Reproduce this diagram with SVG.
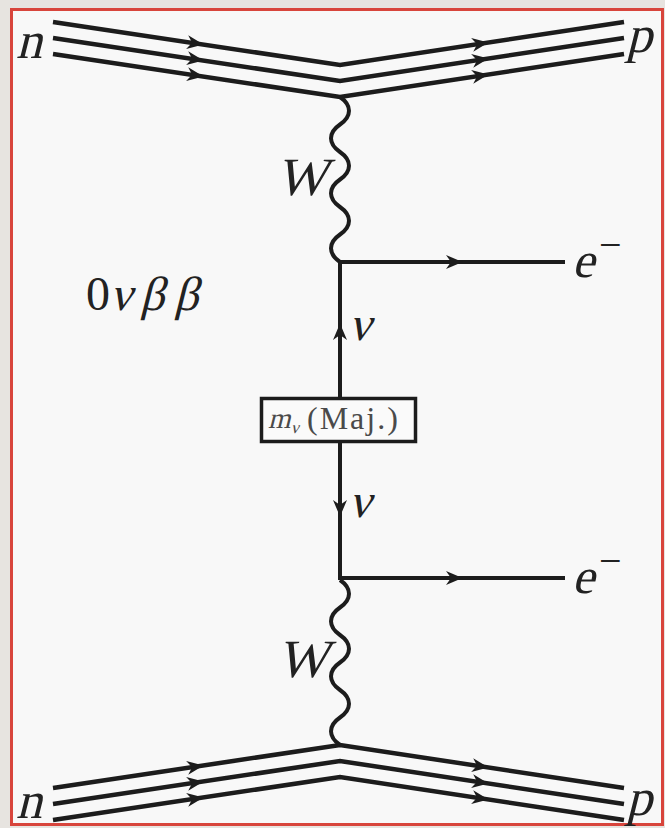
<svg xmlns="http://www.w3.org/2000/svg" width="665" height="828" viewBox="0 0 665 828">
  <style>
    .ln { fill: none; stroke: #1c1c1c; stroke-width: 4.5; stroke-linejoin: miter; }
    .thin { fill: none; stroke: #1c1c1c; stroke-width: 4; }
    .arr { fill: none; stroke: none; marker-end: url(#ah); }
    .lab { font-family: "Liberation Serif", "Times New Roman", serif; font-style: normal; font-weight: normal; fill: #222222; }
    .gray { fill: #4a4a4a; }
  </style>
  <defs>
    <marker id="ah" markerUnits="userSpaceOnUse" viewBox="-18 -9 20 18" markerWidth="20" markerHeight="18" refX="0" refY="0" orient="auto" overflow="visible">
      <path d="M1.5,0 L-15,-7 L-10,0 L-15,7 Z" fill="#1c1c1c"/>
    </marker>
  </defs>

  <rect x="0" y="0" width="665" height="828" fill="#e7e4e0"/>
  <rect id="frame" x="11.5" y="9.5" width="651" height="815" fill="#f8f8f8" stroke="#d8453c" stroke-width="3"/>

  <g id="connectors">
    <path class="ln" d="M53,22 L340,65 L624,22"/>
    <path class="ln" d="M53,38 L340,81 L624,38"/>
    <path class="ln" d="M53,54 L340,97 L624,54"/>
    <path class="arr" d="M190,42.5 L202,44.3"/>
    <path class="arr" d="M190,58.5 L202,60.3"/>
    <path class="arr" d="M190,74.5 L202,76.3"/>
    <path class="arr" d="M475,44.5 L487,42.7"/>
    <path class="arr" d="M475,60.5 L487,58.7"/>
    <path class="arr" d="M475,76.5 L487,74.7"/>

    <path class="ln" d="M53,788 L340,745 L624,788"/>
    <path class="ln" d="M53,804 L340,761 L624,804"/>
    <path class="ln" d="M53,820 L340,777 L624,820"/>
    <path class="arr" d="M190,767.5 L202,765.7"/>
    <path class="arr" d="M190,783.5 L202,781.7"/>
    <path class="arr" d="M190,799.5 L202,797.7"/>
    <path class="arr" d="M475,765.5 L487,767.3"/>
    <path class="arr" d="M475,781.5 L487,783.3"/>
    <path class="arr" d="M475,797.5 L487,799.3"/>

    <path class="thin" d="M340,97 c12,8.25 12,19.25 0,27.5 s-12,19.25 0,27.5 s12,19.25 0,27.5 s-12,19.25 0,27.5 s12,19.25 0,27.5 s-12,19.25 0,27.5"/>
    <path class="thin" d="M340,580 c12,8.25 12,19.25 0,27.5 s-12,19.25 0,27.5 s12,19.25 0,27.5 s-12,19.25 0,27.5 s12,19.25 0,27.5 s-12,19.25 0,27.5"/>

    <path class="thin" d="M340,262 L565,262"/>
    <path class="thin" d="M340,578 L565,578"/>
    <path class="arr" d="M448,262 L461,262"/>
    <path class="arr" d="M448,578 L461,578"/>

    <path class="thin" d="M340,260 L340,580"/>
    <path class="arr" d="M340,338 L340,325"/>
    <path class="arr" d="M340,502 L340,515"/>
  </g>

  <g id="mass-insertion">
    <rect x="261.5" y="398.5" width="154" height="43" fill="#fafafa" stroke="#1c1c1c" stroke-width="3.5"/>
    <text class="lab gray" transform="translate(268,428) skewX(-14)" x="0" y="0" font-size="29">m</text>
    <text class="lab gray" transform="translate(291,433) skewX(-14)" x="0" y="0" font-size="17">ν</text>
    <text class="lab gray" x="307" y="429" font-size="32" letter-spacing="2">(Maj.)</text>
  </g>

  <g id="label-n-top"><text class="lab" transform="translate(16,58) skewX(-14)" font-size="52">n</text></g>
  <g id="label-p-top"><text class="lab" transform="translate(626,52) skewX(-14)" font-size="52">p</text></g>
  <g id="label-n-bottom"><text class="lab" transform="translate(16,818) skewX(-14)" font-size="52">n</text></g>
  <g id="label-p-bottom"><text class="lab" transform="translate(626,815) skewX(-14)" font-size="52">p</text></g>
  <g id="label-W-top"><text class="lab" transform="translate(276,195) skewX(-14)" font-size="54">W</text></g>
  <g id="label-W-bottom"><text class="lab" transform="translate(277,677) skewX(-14)" font-size="54">W</text></g>
  <g id="label-nu-up"><text class="lab" transform="translate(349,340) skewX(-14)" font-size="48">ν</text></g>
  <g id="label-nu-down"><text class="lab" transform="translate(349,517) skewX(-14)" font-size="48">ν</text></g>
  <g id="label-e-top">
    <text class="lab" transform="translate(572,277) skewX(-14)" font-size="50">e</text>
    <text class="lab" x="599" y="258" font-size="40">−</text>
  </g>
  <g id="label-e-bottom">
    <text class="lab" transform="translate(572,593) skewX(-14)" font-size="50">e</text>
    <text class="lab" x="599" y="574" font-size="40">−</text>
  </g>
  <g id="label-process">
    <text class="lab" x="86" y="310" font-size="48">0</text>
    <text class="lab" transform="translate(110,310) skewX(-14)" font-size="48"><tspan x="0">ν</tspan><tspan x="30">β</tspan><tspan x="64">β</tspan></text>
  </g>
</svg>
